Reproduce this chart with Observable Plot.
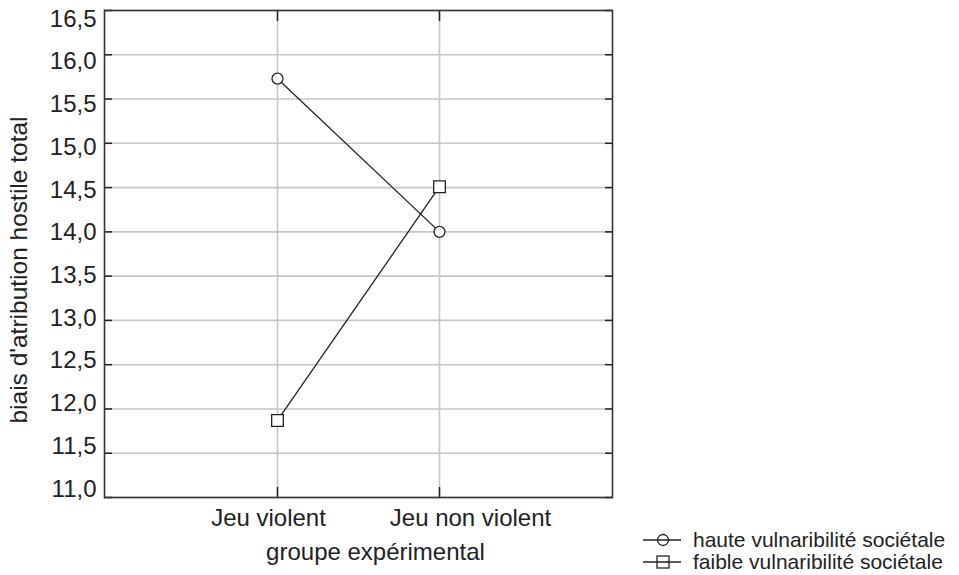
<!DOCTYPE html>
<html>
<head>
<meta charset="utf-8">
<script src="https://cdn.jsdelivr.net/npm/d3@7"></script>
<script src="https://cdn.jsdelivr.net/npm/@observablehq/plot@0.6"></script>
<style>
  body { margin: 0; background: #fff; font-family: "Liberation Sans", Arial, sans-serif; }
  #wrap { position: relative; width: 959px; height: 575px; }
  #legend { position: absolute; left: 643px; top: 529px; color: #222; font-size: 21px; line-height: 22px; }
  #legend .row { display: flex; align-items: center; height: 22px; }
  #legend svg { margin-right: 12px; }
</style>
</head>
<body>
<div id="wrap"><div id="legend"></div></div>
<script>
const groups = ["Jeu violent", "Jeu non violent"];
const haute = [15.73, 14.0];
const faible = [11.87, 14.51];
const seriesNames = ["haute vulnaribilité sociétale", "faible vulnaribilité sociétale"];
const yTicks = [11, 11.5, 12, 12.5, 13, 13.5, 14, 14.5, 15, 15.5, 16, 16.5];
const xTitle = "groupe expérimental";
const yTitle = "biais d'atribution hostile total";

const rowsH = groups.map((g, i) => ({group: g, value: haute[i], series: seriesNames[0]}));
const rowsF = groups.map((g, i) => ({group: g, value: faible[i], series: seriesNames[1]}));

const ink = "#222";
const fmt = d => d.toFixed(1).replace(".", ",");
const fs = 24;

const chart = Plot.plot({
  width: 959,
  height: 575,
  marginLeft: 104,
  marginRight: 347,
  marginTop: 10,
  marginBottom: 78,
  style: {fontFamily: "Liberation Sans, Arial, sans-serif", fontSize: fs + "px", color: ink, background: "#fff"},
  x: {type: "point", domain: groups, padding: 1.06, axis: null},
  y: {domain: [11, 16.5], axis: null},
  marks: [
    Plot.gridY(yTicks, {stroke: "#c6c6c6", strokeOpacity: 1, strokeWidth: 1.6}),
    Plot.gridX(groups, {stroke: "#c6c6c6", strokeOpacity: 1, strokeWidth: 1.6}),
    Plot.axisY(yTicks, {anchor: "left", tickSize: -8, tickFormat: () => "", label: null, stroke: ink, strokeWidth: 1.5}),
    Plot.axisY(yTicks, {anchor: "right", tickSize: -8, tickFormat: () => "", label: null, stroke: ink, strokeWidth: 1.5}),
    Plot.axisX(groups, {anchor: "bottom", tickSize: -10, tickFormat: () => "", label: null, stroke: ink, strokeWidth: 1.5}),
    Plot.axisX(groups, {anchor: "top", tickSize: -10, tickFormat: () => "", label: null, stroke: ink, strokeWidth: 1.5}),
    Plot.frame({stroke: "#333", strokeWidth: 1.6}),
    // y tick labels
    Plot.text(yTicks, {y: d => 13.75 + (d - 13.75) * 0.965, text: fmt, frameAnchor: "left", textAnchor: "end", dx: -8, fill: ink, fontSize: fs}),
    // x tick labels
    Plot.text(groups.slice(0, 1), {x: d => d, text: d => d, frameAnchor: "bottom", dy: 28, dx: -9, fill: ink, fontSize: fs}),
    Plot.text(groups.slice(1, 2), {x: d => d, text: d => d, frameAnchor: "bottom", dy: 28, dx: 31, fill: ink, fontSize: fs}),
    // titles
    Plot.text([xTitle], {frameAnchor: "bottom", dy: 62, dx: 17, fill: ink, fontSize: fs}),
    Plot.text([yTitle], {frameAnchor: "left", textAnchor: "middle", rotate: -90, dx: -85, dy: 16, fill: ink, fontSize: 24.5}),
    // series
    Plot.line(rowsH, {x: "group", y: "value", stroke: ink, strokeWidth: 1.3}),
    Plot.line(rowsF, {x: "group", y: "value", stroke: ink, strokeWidth: 1.3}),
    Plot.dot(rowsH, {x: "group", y: "value", symbol: "circle", r: 5.5, fill: "#fff", stroke: ink, strokeWidth: 1.3}),
    Plot.dot(rowsF, {x: "group", y: "value", symbol: "square", r: 6.6, fill: "#fff", stroke: ink, strokeWidth: 1.3})
  ]
});
const wrap = document.getElementById("wrap");
wrap.insertBefore(chart, wrap.firstChild);

// legend
const legend = document.getElementById("legend");
const symbols = ["circle", "square"];
seriesNames.forEach((name, i) => {
  const row = document.createElement("div");
  row.className = "row";
  const sym = symbols[i] === "circle"
    ? `<circle cx="20" cy="10" r="5.5" fill="none" stroke="${ink}" stroke-width="1.3"/>`
    : `<rect x="14" y="4" width="12" height="12" fill="none" stroke="${ink}" stroke-width="1.3"/>`;
  row.innerHTML = `<svg width="38" height="20"><line x1="0" x2="38" y1="10" y2="10" stroke="${ink}" stroke-width="1.3"/>${sym}</svg><span>${name}</span>`;
  legend.appendChild(row);
});
</script>
</body>
</html>
